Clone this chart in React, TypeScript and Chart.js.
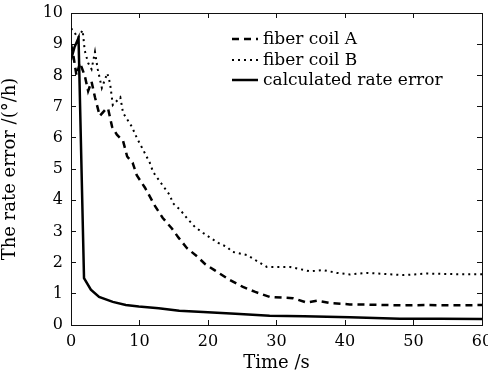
import React, { useEffect, useRef } from "react";
import { Chart, registerables } from "chart.js";

Chart.register(...registerables);

const xTicks = [0, 10, 20, 30, 40, 50, 60];
const yTicks = [0, 1, 2, 3, 4, 5, 6, 7, 8, 9, 10];

const timeA = [0, 0.3, 0.8, 1.3, 2, 2.5, 3, 3.5, 4.2, 5, 5.4, 6, 6.7, 7.6, 8.2, 9, 9.6, 10.8, 11.3, 12.3, 13.4, 14.7, 15.7, 16.9, 18.4, 19.6, 21, 23.2, 25.1, 26.9, 29, 32.4, 34.4, 36, 38, 40.7, 44, 48.6, 52, 56, 60];
const coilA = [9.0, 8.7, 8.0, 8.4, 8.0, 7.5, 7.8, 7.3, 6.7, 6.9, 6.95, 6.35, 6.1, 5.9, 5.4, 5.2, 4.8, 4.4, 4.2, 3.8, 3.43, 3.1, 2.8, 2.47, 2.2, 1.95, 1.75, 1.44, 1.22, 1.06, 0.9, 0.86, 0.72, 0.78, 0.7, 0.66, 0.65, 0.63, 0.64, 0.63, 0.64];

const timeB = [0, 0.3, 1, 1.7, 2, 2.5, 3, 3.5, 3.9, 4.5, 5.3, 5.7, 6.1, 7.2, 7.6, 8.9, 9.6, 10.8, 11.5, 12, 13.3, 14.4, 14.9, 15.9, 16.9, 18.1, 19.3, 20.3, 21.5, 22.8, 23.5, 25.7, 28.6, 32, 34.9, 36.8, 38.8, 40.7, 43.2, 48.6, 52, 56, 60];
const coilB = [9.5, 9.45, 9.2, 9.45, 8.8, 8.4, 8.2, 8.75, 8.2, 7.6, 8.07, 7.75, 7.05, 7.3, 6.8, 6.35, 6.0, 5.5, 5.2, 4.9, 4.5, 4.17, 3.9, 3.7, 3.43, 3.14, 2.95, 2.8, 2.63, 2.5, 2.35, 2.24, 1.86, 1.86, 1.72, 1.76, 1.67, 1.62, 1.67, 1.6, 1.65, 1.63, 1.63];

const timeC = [0, 0.5, 1.1, 1.9, 2.9, 4.1, 6.1, 8, 9.9, 12.8, 15.8, 19.3, 24, 29, 34, 40.7, 48, 54, 60];
const calcErr = [8.5, 8.9, 9.2, 1.5, 1.13, 0.9, 0.74, 0.64, 0.59, 0.54, 0.46, 0.42, 0.36, 0.3, 0.28, 0.25, 0.2, 0.2, 0.19];

const seriesLabels = ["fiber coil A", "fiber coil B", "calculated rate error"];

const FONT = "'DejaVu Serif', serif";
const AXIS = "#111";

const toPts = (t: number[], v: number[]) => t.map((x, i) => ({ x, y: v[i] }));

const legendPlugin = {
  id: "insideLegend",
  afterDraw(chart: any) {
    const { ctx } = chart;
    const rows = [39, 60, 80];
    ctx.save();
    ctx.strokeStyle = "#000";
    chart.data.datasets.forEach((ds: any, i: number) => {
      ctx.beginPath();
      ctx.setLineDash(ds.borderDash || []);
      ctx.lineWidth = ds.borderWidth;
      ctx.moveTo(232, rows[i]);
      ctx.lineTo(258, rows[i]);
      ctx.stroke();
      ctx.setLineDash([]);
      ctx.fillStyle = "#000";
      ctx.font = `17px ${FONT}`;
      ctx.textBaseline = "middle";
      ctx.fillText(ds.label, 263, rows[i] + 1);
    });
    ctx.restore();
  },
};

const gridInside = { display: true, drawOnChartArea: false, drawTicks: true, tickLength: -5, color: AXIS, lineWidth: 1 };
const borderOn = { display: true, color: AXIS, width: 1 };

export default function App() {
  const ref = useRef<HTMLCanvasElement>(null);
  useEffect(() => {
    if (!ref.current) return;
    const chart = new Chart(ref.current, {
      type: "line",
      data: {
        datasets: [
          { label: seriesLabels[0], data: toPts(timeA, coilA), borderColor: "#000", borderWidth: 2.5, borderDash: [7, 5], pointRadius: 0, tension: 0 },
          { label: seriesLabels[1], data: toPts(timeB, coilB), borderColor: "#000", borderWidth: 2, borderDash: [2, 4], pointRadius: 0, tension: 0 },
          { label: seriesLabels[2], data: toPts(timeC, calcErr), borderColor: "#000", borderWidth: 2.5, pointRadius: 0, tension: 0 },
        ],
      },
      options: {
        animation: false,
        responsive: false,
        layout: { padding: { top: 13, right: 6, left: 0, bottom: 0 } },
        plugins: { legend: { display: false }, tooltip: { enabled: false } },
        scales: {
          x: {
            type: "linear",
            position: "bottom",
            min: 0,
            max: 60,
            afterBuildTicks: (s: any) => { s.ticks = xTicks.map((v) => ({ value: v })); },
            afterFit: (s: any) => { s.height = 51; s.paddingLeft = 0; s.paddingRight = 0; },
            grid: gridInside,
            border: borderOn,
            ticks: { color: "#000", padding: 12, font: { family: FONT, size: 16 }, maxRotation: 0 },
            title: { display: true, text: "Time /s", color: "#000", font: { family: FONT, size: 18 }, padding: { top: 0, bottom: 2 } },
          },
          x2: {
            type: "linear",
            position: "top",
            min: 0,
            max: 60,
            afterBuildTicks: (s: any) => { s.ticks = xTicks.map((v) => ({ value: v })); },
            afterFit: (s: any) => { s.height = 0; s.paddingLeft = 0; s.paddingRight = 0; },
            grid: gridInside,
            border: borderOn,
            ticks: { display: false },
          },
          y: {
            type: "linear",
            position: "left",
            min: 0,
            max: 10,
            afterBuildTicks: (s: any) => { s.ticks = yTicks.map((v) => ({ value: v })); },
            afterFit: (s: any) => { s.width = 71; s.paddingTop = 0; s.paddingBottom = 0; },
            grid: gridInside,
            border: borderOn,
            ticks: { color: "#000", padding: 13, font: { family: FONT, size: 16 } },
            title: { display: true, text: "The rate error /(°/h)", color: "#000", font: { family: FONT, size: 18 }, padding: { top: 0, bottom: 4 } },
          },
          y2: {
            type: "linear",
            position: "right",
            min: 0,
            max: 10,
            afterBuildTicks: (s: any) => { s.ticks = yTicks.map((v) => ({ value: v })); },
            afterFit: (s: any) => { s.width = 0; s.paddingTop = 0; s.paddingBottom = 0; },
            grid: gridInside,
            border: borderOn,
            ticks: { display: false },
          },
        },
      },
      plugins: [legendPlugin],
    });
    return () => chart.destroy();
  }, []);
  return (
    <div style={{ position: "fixed", left: 0, top: 0, width: 488, height: 376, background: "#fff" }}>
      <canvas ref={ref} width={488} height={376} style={{ display: "block" }} />
    </div>
  );
}
